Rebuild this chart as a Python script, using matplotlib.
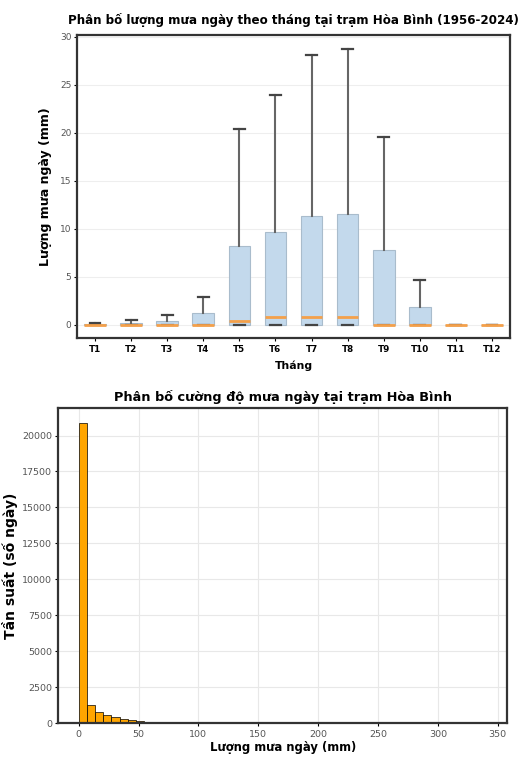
import matplotlib
matplotlib.use("Agg")
import matplotlib.pyplot as plt
import numpy as np

# monthly daily-rainfall box statistics (mm), Hoa Binh 1956-2024
months = ["T1", "T2", "T3", "T4", "T5", "T6", "T7", "T8", "T9", "T10", "T11", "T12"]
q1 = [0, 0, 0, 0, 0, 0, 0, 0, 0, 0, 0, 0]
med = [0, 0, 0, 0, 0.38, 0.76, 0.83, 0.76, 0, 0, 0, 0]
q3 = [0.1, 0.17, 0.4, 1.15, 8.16, 9.6, 11.35, 11.56, 7.74, 1.84, 0, 0]
whis_lo = [0, 0, 0, 0, 0, 0, 0, 0, 0, 0, 0, 0]
whis_hi = [0.2, 0.5, 1.0, 2.9, 20.4, 23.9, 28.1, 28.7, 19.5, 4.6, 0, 0]

# histogram of daily rainfall intensity (50 bins, 0 -> 341 mm)
bin_edges = np.linspace(0, 341, 51)
counts = [20850, 1280, 780, 560, 410, 300, 225, 165, 120, 88,
          62, 45, 32, 23, 16, 12, 9, 7, 5, 4,
          3, 2, 2, 1, 1, 1, 1, 0, 1, 0,
          0, 1, 0, 0, 0, 0, 1, 0, 0, 0,
          0, 0, 0, 0, 0, 0, 0, 0, 0, 1]

SPINE = "#333333"
TICKC = "#555555"

fig = plt.figure(figsize=(5.27, 7.59), dpi=100)

# ---- top: box plot per month
ax1 = fig.add_axes([0.1461, 0.5543, 0.8216, 0.3992])
stats = [dict(label=m, q1=a, med=b, q3=c, whislo=d, whishi=e)
         for m, a, b, c, d, e in zip(months, q1, med, q3, whis_lo, whis_hi)]
ax1.bxp(stats, showfliers=False, patch_artist=True, widths=0.6,
        boxprops=dict(facecolor="#c3d9ec", edgecolor="#a9bccc", linewidth=0.8),
        whiskerprops=dict(color="#666666", linewidth=1.5),
        capprops=dict(color="#444444", linewidth=1.6),
        medianprops=dict(color="#f4a04a", linewidth=2))
ax1.set_title("Phân bố lượng mưa ngày theo tháng tại trạm Hòa Bình (1956-2024)",
              fontsize=8.6, fontweight="bold", pad=8)
ax1.set_xlabel("Tháng", fontsize=7.8, fontweight="bold", labelpad=5)
ax1.set_ylabel("Lượng mưa ngày (mm)", fontsize=9.0, fontweight="bold", labelpad=6)
ax1.set_yticks([0, 5, 10, 15, 20, 25, 30])
ax1.tick_params(axis="y", labelsize=6.5, labelcolor=TICKC, length=2.5, width=0.8, pad=1.5)
ax1.tick_params(axis="x", labelsize=6.3, length=2.5, width=0.8, pad=2)
for lbl in ax1.get_xticklabels():
    lbl.set_fontweight("bold")
ax1.grid(axis="y", color="#eeeeee", lw=0.8)
ax1.set_axisbelow(True)
for s in ax1.spines.values():
    s.set_color(SPINE)
    s.set_linewidth(1.6)

# ---- bottom: histogram
ax2 = fig.add_axes([0.1106, 0.047, 0.852, 0.4151])
centers = (bin_edges[:-1] + bin_edges[1:]) / 2
ax2.hist(centers, bins=bin_edges, weights=counts, color="orange",
         edgecolor="black", linewidth=0.5)
ax2.set_title("Phân bố cường độ mưa ngày tại trạm Hòa Bình",
              fontsize=9.25, fontweight="bold", pad=5)
ax2.set_xlabel("Lượng mưa ngày (mm)", fontsize=8.4, fontweight="bold", labelpad=2)
ax2.set_ylabel("Tần suất (số ngày)", fontsize=10.0, fontweight="bold", labelpad=3)
ax2.set_xticks([0, 50, 100, 150, 200, 250, 300, 350])
ax2.tick_params(labelsize=6.8, labelcolor=TICKC, length=2.5, width=0.8, pad=2)
ax2.grid(color="#e8e8e8", lw=0.8)
ax2.set_axisbelow(True)
for s in ax2.spines.values():
    s.set_color(SPINE)
    s.set_linewidth(1.6)

fig.savefig("out.png", dpi=100)
